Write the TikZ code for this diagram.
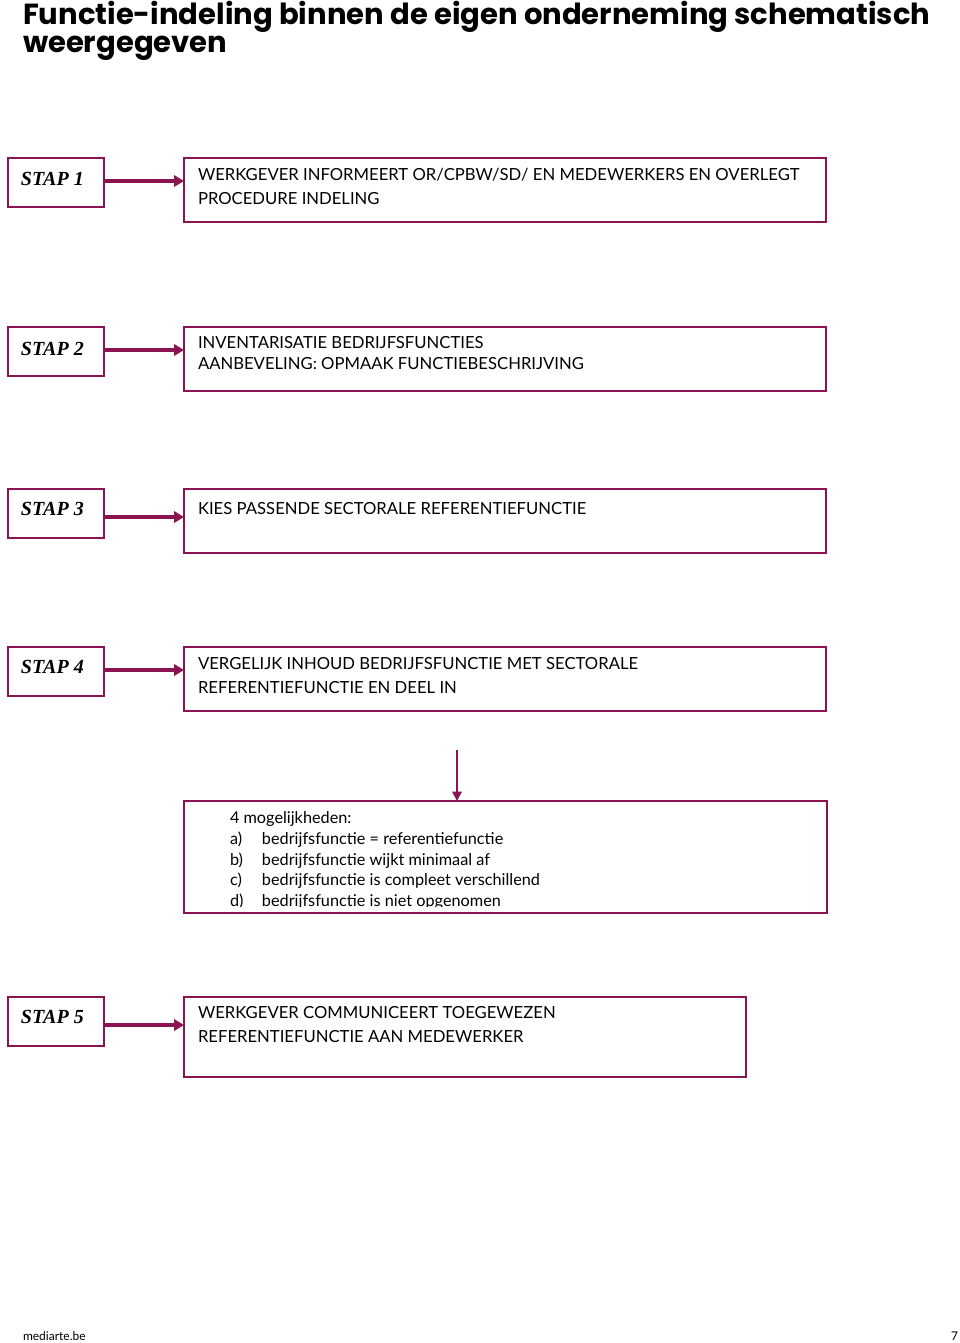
\documentclass[tikz,border=0pt]{standalone}
\usepackage{fontspec}
\setmainfont{Lato}
\newfontfamily\stapfont{Liberation Serif}
\newfontfamily\titlefont{Poppins}
\usetikzlibrary{arrows.meta}
\definecolor{wine}{RGB}{140,20,82}
\newcommand{\optitem}[2]{\makebox[24pt][l]{#1}#2}
\begin{document}
\begin{tikzpicture}[x=0.75pt,y=-0.75pt,
  every node/.style={inner sep=0pt,outer sep=0pt},
  stapbox/.style={draw=wine,line width=1.1pt,anchor=north west,minimum width=72pt,minimum height=36.75pt},
  bigbox/.style={draw=wine,line width=1.1pt,anchor=north west,minimum width=481.5pt,minimum height=48pt},
  staplabel/.style={anchor=base west,font=\stapfont\bfseries\itshape\fontsize{15}{17}\selectfont},
  boxtext/.style={anchor=north west,align=left,font=\fontsize{12.5}{18}\selectfont},
  harrow/.style={draw=wine,line width=2.8pt,-{Triangle[length=7.5pt,width=8.5pt]}},
  varrow/.style={draw=wine,line width=1.4pt,-{Triangle[length=7pt,width=7pt]}},
  titletext/.style={anchor=base west,font=\titlefont\bfseries\fontsize{21.8}{26}\selectfont}
]
\useasboundingbox (0,0) rectangle (960,1343);
% title
\node[titletext] (title1) at (23,24) {Functie-indeling binnen de eigen onderneming schematisch};
\node[titletext] (title2) at (23,52) {weergegeven};
% step 1
\node[stapbox] (s1) at (8,158) {};
\node[staplabel] (l1) at (21,185) {STAP 1};
\node[bigbox] (b1) at (184,158) {};
\node[boxtext] (t1) at (198,168) {WERKGEVER INFORMEERT OR/CPBW/SD/ EN MEDEWERKERS EN OVERLEGT\\PROCEDURE INDELING};
\draw[harrow] (104,181) -- (b1.west |- 0,181);
% step 2
\node[stapbox] (s2) at (8,327) {};
\node[staplabel] (l2) at (21,355) {STAP 2};
\node[bigbox] (b2) at (184,327) {};
\node[boxtext,font=\fontsize{12.5}{16}\selectfont] (t2) at (198,336) {INVENTARISATIE BEDRIJFSFUNCTIES\\AANBEVELING: OPMAAK FUNCTIEBESCHRIJVING};
\draw[harrow] (104,350) -- (b2.west |- 0,350);
% step 3
\node[stapbox] (s3) at (8,489) {};
\node[staplabel] (l3) at (21,515) {STAP 3};
\node[bigbox] (b3) at (184,489) {};
\node[boxtext] (t3) at (198,502) {KIES PASSENDE SECTORALE REFERENTIEFUNCTIE};
\draw[harrow] (104,517) -- (b3.west |- 0,517);
% step 4
\node[stapbox] (s4) at (8,647) {};
\node[staplabel] (l4) at (21,673) {STAP 4};
\node[bigbox] (b4) at (184,647) {};
\node[boxtext] (t4) at (198,657) {VERGELIJK INHOUD BEDRIJFSFUNCTIE MET SECTORALE\\REFERENTIEFUNCTIE EN DEEL IN};
\draw[harrow] (104,670) -- (b4.west |- 0,670);
% options
\node[bigbox,minimum width=482.25pt,minimum height=84pt] (opt) at (184,801) {};
\coordinate (va) at (457,750);
\draw[varrow] (va) -- (va |- opt.north);
\begin{scope}
\clip (186,803) rectangle (824,906);
\node[boxtext,font=\fontsize{12.2}{15.4}\selectfont] (t5) at (230,812) {4 mogelijkheden:\\
\optitem{a)}{bedrijfsfunctie = referentiefunctie}\\
\optitem{b)}{bedrijfsfunctie wijkt minimaal af}\\
\optitem{c)}{bedrijfsfunctie is compleet verschillend}\\
\optitem{d)}{bedrijfsfunctie is niet opgenomen}};
\end{scope}
% step 5
\node[stapbox] (s5) at (8,997) {};
\node[staplabel] (l5) at (21,1023) {STAP 5};
\node[bigbox,minimum width=421.5pt,minimum height=60pt] (b5) at (184,997) {};
\node[boxtext] (t6) at (198,1006) {WERKGEVER COMMUNICEERT TOEGEWEZEN\\REFERENTIEFUNCTIE AAN MEDEWERKER};
\draw[harrow] (104,1025) -- (b5.west |- 0,1025);
% footer
\node[anchor=base west,font=\fontsize{9}{10}\selectfont] (foot) at (23,1340) {mediarte.be};
\node[anchor=base east,font=\fontsize{9}{10}\selectfont] (page) at (958,1340) {7};
\end{tikzpicture}
\end{document}
